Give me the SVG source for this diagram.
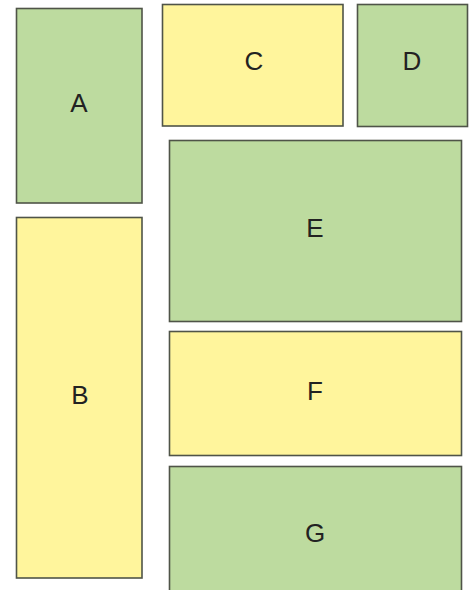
<svg xmlns="http://www.w3.org/2000/svg" width="470" height="590" viewBox="0 0 470 590">
<style>
.g{fill:#bddb9f;stroke:#4f5448;stroke-width:1.6}
.y{fill:#fff59c;stroke:#4f5448;stroke-width:1.6}
text{font-family:"Liberation Sans",Arial,sans-serif;font-size:26px;fill:#222;text-anchor:middle}
</style>
<rect width="470" height="590" fill="#fff"/>
<g id="A"><rect class="g" x="16.5" y="8.5" width="125.5" height="194.5"/><text x="79" y="112">A</text></g>
<g id="B"><rect class="y" x="16.5" y="217.5" width="125.5" height="360.5"/><text x="80" y="404">B</text></g>
<g id="C"><rect class="y" x="162.5" y="4.5" width="180.5" height="121.5"/><text x="254" y="70">C</text></g>
<g id="D"><rect class="g" x="357.5" y="4.5" width="110" height="122"/><text x="412" y="70">D</text></g>
<g id="E"><rect class="g" x="169.5" y="140.5" width="292" height="181"/><text x="315" y="237">E</text></g>
<g id="F"><rect class="y" x="169.5" y="331.5" width="292" height="124"/><text x="315" y="400">F</text></g>
<g id="G"><rect class="g" x="169.5" y="466.5" width="292" height="130"/><text x="315" y="542">G</text></g>
<g id="connectors"></g>
</svg>
